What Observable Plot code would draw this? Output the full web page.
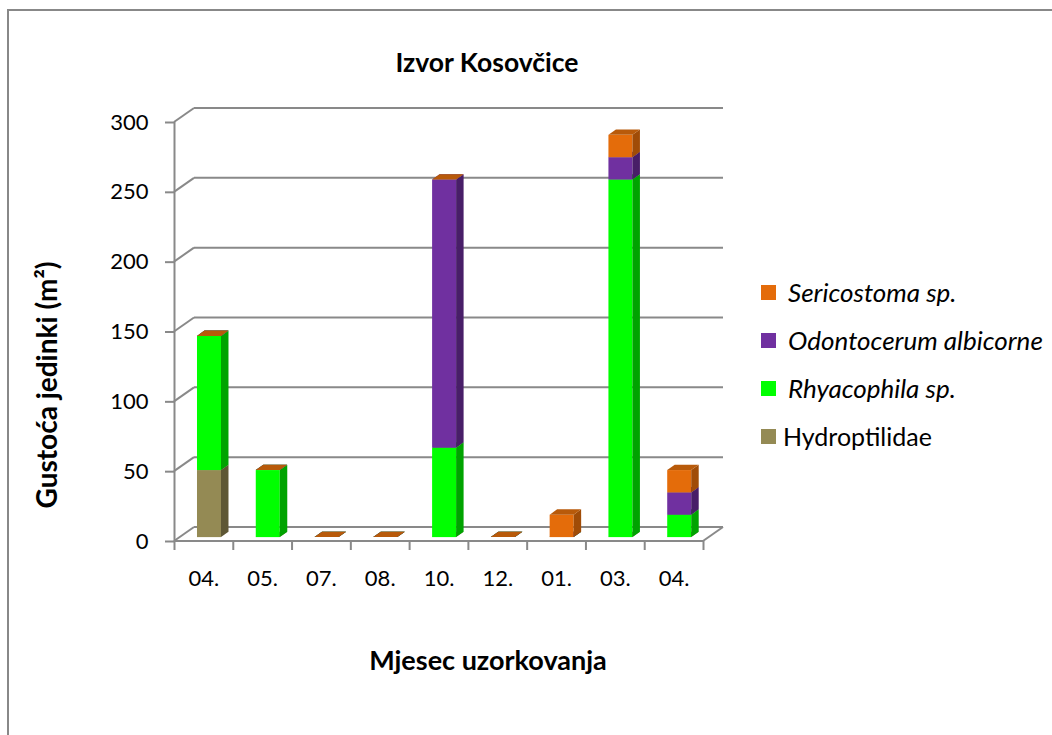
<!DOCTYPE html>
<html>
<head>
<meta charset="utf-8">
<script src="https://cdn.jsdelivr.net/npm/d3@7"></script>
<script src="https://cdn.jsdelivr.net/npm/@observablehq/plot@0.6"></script>
<style>
  html, body { margin: 0; padding: 0; background: #fff; overflow: hidden; }
  body { width: 1052px; height: 735px; position: relative; font-family: Lato, "Open Sans", sans-serif; }
  #frame { position: absolute; left: 7px; top: 9px; width: 1100px; height: 800px; border: 2px solid #888; box-sizing: border-box; }
  #chart { position: absolute; left: 0; top: 0; }
  .title { position: absolute; font-weight: bold; color: #000; white-space: nowrap; transform: translate(-50%, -50%); }
  #legend { position: absolute; left: 761px; top: 276px; font-size: 25px; color: #000; }
  .li { position: relative; height: 48px; }
  .sw { position: absolute; left: 0; top: 9px; width: 15px; height: 15px; }
  .lt { position: absolute; top: 0; line-height: 32px; white-space: nowrap; }
</style>
</head>
<body>
<div id="frame"></div>
<div id="chart"></div>
<div class="title" style="left:487px; top:62px; font-size:26.5px;">Izvor Kosovčice</div>
<div class="title" style="left:488px; top:659px; font-size:27px;">Mjesec uzorkovanja</div>
<div class="title" style="left:46px; top:385px; font-size:28px; transform: translate(-50%, -50%) rotate(-90deg);">Gustoća jedinki (m²)</div>
<div id="legend"></div>
<script>
// ---- data ----
const months = ["04.", "05.", "07.", "08.", "10.", "12.", "01.", "03.", "04."];
const seriesNames = ["Hydroptilidae", "Rhyacophila sp.", "Odontocerum albicorne", "Sericostoma sp."];
const hydroptilidae = [48, 0, 0, 0, 0, 0, 0, 0, 0];
const rhyacophila   = [96, 48, 0, 0, 64, 0, 0, 256, 16];
const odontocerum   = [0, 0, 0, 0, 192, 0, 0, 16, 16];
const sericostoma   = [0, 0, 0, 0, 0, 0, 16, 16, 16];
const yTicks = [0, 50, 100, 150, 200, 250, 300];

// ---- styles ----
const colors = {
  "Hydroptilidae":          {front: "#948A54", side: "#5E5735", top: "#7A7145"},
  "Rhyacophila sp.":        {front: "#00FF00", side: "#00A300", top: "#00C800"},
  "Odontocerum albicorne":  {front: "#7030A0", side: "#481E68", top: "#5A2684"},
  "Sericostoma sp.":        {front: "#E46C0A", side: "#A04C07", top: "#B85A0A"}
};
const italic = {"Hydroptilidae": false, "Rhyacophila sp.": true, "Odontocerum albicorne": true, "Sericostoma sp.": true};
const wall = {dx: 20, dy: -14};               // depth of the back wall (px)
const bar = {width: 24, shift: 5.6, lift: -3.9, dx: 7.5, dy: -5.4};
const gridColor = "#898989";

// table built from the arrays
const valuesBySeries = [hydroptilidae, rhyacophila, odontocerum, sericostoma];
const table = [];
months.forEach((m, i) => {
  let acc = 0;
  valuesBySeries.forEach((vals, s) => {
    table.push({i, month: m, series: seriesNames[s], y0: acc, y1: acc + vals[i]});
    acc += vals[i];
  });
});

// back walls, gridlines, floor
function walls(index, {x, y}) {
  const g = d3.create("svg:g").attr("fill", "none").attr("stroke", gridColor).attr("stroke-width", 2);
  const x0 = x(0), x9 = x(months.length);
  for (const t of yTicks) {
    const yy = y(t);
    g.append("line").attr("x1", x0 + wall.dx).attr("x2", x9 + wall.dx).attr("y1", yy + wall.dy).attr("y2", yy + wall.dy);
    g.append("line").attr("x1", x0).attr("x2", x0 + wall.dx).attr("y1", yy).attr("y2", yy + wall.dy);
  }
  // floor front edge and right diagonal
  g.append("line").attr("x1", x0).attr("x2", x9).attr("y1", y(0)).attr("y2", y(0));
  g.append("line").attr("x1", x9).attr("x2", x9 + wall.dx).attr("y1", y(0)).attr("y2", y(0) + wall.dy);
  return g.node();
}

// 3D stacked columns
function columns(index, {x, y}) {
  const g = d3.create("svg:g");
  for (const d of table) {
    const c = colors[d.series];
    const left = x(d.i + 0.5) + bar.shift - bar.width / 2;
    const right = left + bar.width;
    const top = y(d.y1) + bar.lift;
    const bottom = y(d.y0) + bar.lift;
    if (bottom - top > 0) {
      g.append("rect").attr("x", left).attr("y", top).attr("width", bar.width).attr("height", bottom - top).attr("fill", c.front);
      g.append("polygon").attr("fill", c.side).attr("points",
        [[right, top], [right + bar.dx, top + bar.dy], [right + bar.dx, bottom + bar.dy], [right, bottom]].join(" "));
    }
    g.append("polygon").attr("fill", c.top).attr("points",
      [[left, top], [left + bar.dx, top + bar.dy], [right + bar.dx, top + bar.dy], [right, top]].join(" "));
  }
  return g.node();
}

const plot = Plot.plot({
  width: 1052,
  height: 735,
  marginLeft: 174,
  marginRight: 349,
  marginTop: 122,
  marginBottom: 194,
  style: {fontFamily: "Lato, 'Open Sans', sans-serif", background: "transparent", color: "#000"},
  x: {type: "linear", domain: [0, months.length], axis: null},
  y: {domain: [0, 300], axis: null},
  marks: [
    walls,
    Plot.ruleX([0], {y1: 0, y2: 300, stroke: gridColor, strokeWidth: 2}),
    Plot.axisY(yTicks, {tickSize: 9, tickPadding: 17, fontSize: 22, stroke: gridColor, strokeWidth: 2, strokeOpacity: 1, tickFormat: d => String(d)}),
    Plot.axisX(d3.range(months.length + 1), {tickSize: 9, tickFormat: () => "", stroke: gridColor, strokeWidth: 2, strokeOpacity: 1}),
    Plot.axisX(d3.range(months.length).map(i => i + 0.5), {tickSize: 0, tickPadding: 29, fontSize: 22, tickFormat: d => months[Math.floor(d)]}),
    columns
  ]
});
document.getElementById("chart").appendChild(plot);

// legend (top-down order as in the reference)
const legend = d3.select("#legend");
for (const name of seriesNames.slice().reverse()) {
  const row = legend.append("div").attr("class", "li");
  row.append("div").attr("class", "sw").style("background", colors[name].front);
  row.append("div").attr("class", "lt")
    .style("left", italic[name] ? "27px" : "22px")
    .style("font-style", italic[name] ? "italic" : "normal")
    .style("font-size", italic[name] ? "26px" : "25px")
    .text(name);
}
</script>
</body>
</html>
